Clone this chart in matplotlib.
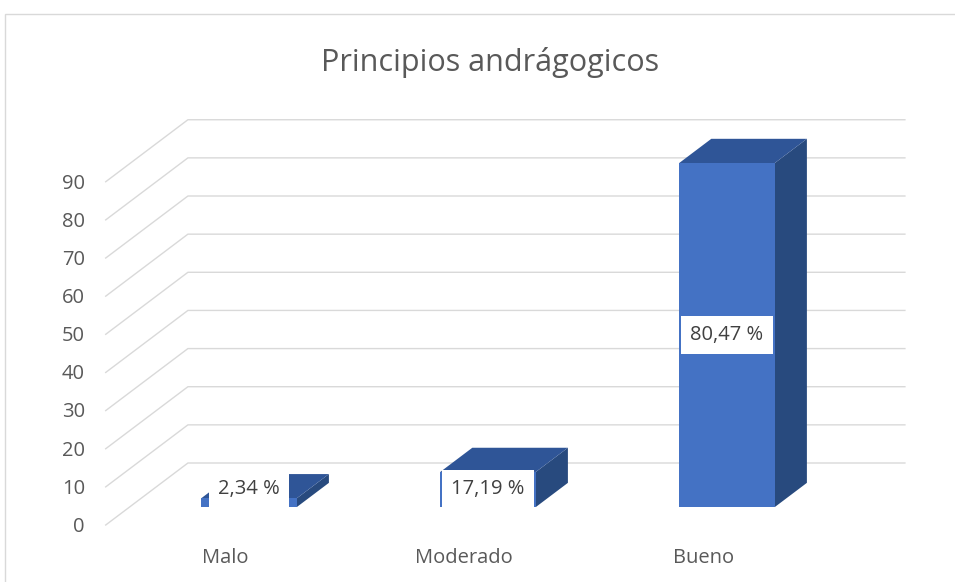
import matplotlib.pyplot as plt
from matplotlib.patches import Polygon, Rectangle

# data
categories = ['Malo', 'Moderado', 'Bueno']
bar_heights = [2.3, 9.2, 90.2]          # heights as drawn on the value axis
bar_labels = ['2,34 %', '17,19 %', '80,47 %']
y_ticks = [0, 10, 20, 30, 40, 50, 60, 70, 80, 90]
title = 'Principios andrágogicos'

plt.rcParams['font.family'] = ['Open Sans', 'DejaVu Sans']

# oblique 3D look: full depth shifts right (category units) and up (value units)
DX, DY = 0.344, 16.26
D_FRONT, D_BACK = 0.29, 0.68
BAR_W = 0.4
GRID = '#d9d9d9'
FRONT, TOP, SIDE = '#4472c4', '#2f5597', '#284a7e'


def proj(x, v, d):
    return (x + d * DX, v + d * DY)


fig = plt.figure(figsize=(9.55, 5.82), dpi=100)
ax = fig.add_axes([0, 0, 1, 1])
ax.set_xlim(-0.4423, 3.5536)
ax.set_ylim(-14.94, 137.65)
ax.axis('off')

# outer chart border
fig.patches.append(Rectangle((5 / 955, -0.1), 1.2, 1 - 14 / 582 + 0.1,
                             transform=fig.transFigure, fill=False,
                             edgecolor='#d9d9d9', lw=1.0))

n = len(categories)
# gridlines: side wall diagonals and back wall horizontals
for t in y_ticks:
    x0, y0 = proj(0, t, 0)
    x1, y1 = proj(0, t, 1)
    x2, y2 = proj(n, t, 1)
    ax.plot([x0, x1, x2], [y0, y1, y2], color=GRID, lw=1.0, zorder=1)
    ax.text(-0.087, t - 0.5, str(t), ha='right', va='center',
            fontsize=14.5, color='#595959')

# bars
for i, (h, lab) in enumerate(zip(bar_heights, bar_labels)):
    xl = i + 0.5 - BAR_W / 2
    xr = i + 0.5 + BAR_W / 2
    front = [proj(xl, 0, D_FRONT), proj(xr, 0, D_FRONT),
             proj(xr, h, D_FRONT), proj(xl, h, D_FRONT)]
    side = [proj(xr, 0, D_FRONT), proj(xr, 0, D_BACK),
            proj(xr, h, D_BACK), proj(xr, h, D_FRONT)]
    top = [proj(xl, h, D_FRONT), proj(xr, h, D_FRONT),
           proj(xr, h, D_BACK), proj(xl, h, D_BACK)]
    ax.add_patch(Polygon(side, closed=True, fc=SIDE, ec='none', zorder=2))
    ax.add_patch(Polygon(top, closed=True, fc=TOP, ec='none', zorder=2))
    ax.add_patch(Polygon(front, closed=True, fc=FRONT, ec='none', zorder=2))

    lv = max(h / 2, 4.6)
    lx, ly = proj(i + 0.5, lv, D_FRONT)
    ax.text(lx, ly, lab, ha='center', va='center', fontsize=14.5,
            color='#404040', zorder=3,
            bbox=dict(boxstyle='square,pad=0.45', fc='white', ec='none'))

    ax.text(i + 0.5, -8.6, categories[i], ha='center', va='center',
            fontsize=14.5, color='#595959')

fig.text(490 / 955, 1 - 62 / 582, title, ha='center', va='center',
         fontsize=22, color='#595959')

fig.savefig('out.png', dpi=100)
